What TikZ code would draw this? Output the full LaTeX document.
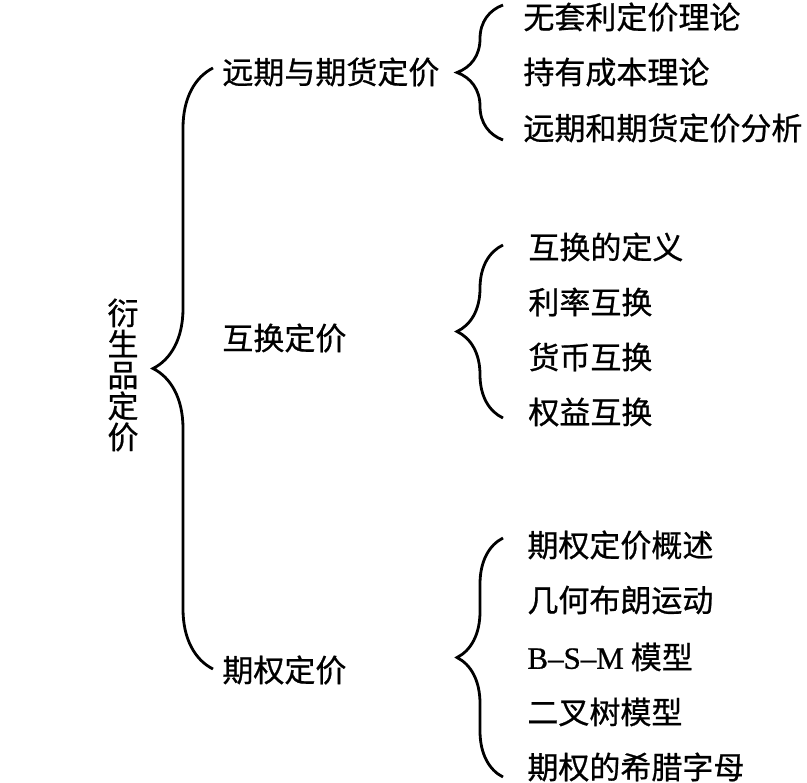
\documentclass[tikz,border=0pt]{standalone}
\usepackage{fontspec}
\setmainfont{Liberation Serif}
\newfontfamily\cjk[FakeBold=0.7]{Noto Sans CJK SC}
\newfontfamily\lat[FakeBold=0.7,Ligatures=TeX]{Liberation Serif}
\usetikzlibrary{decorations.pathreplacing}
\begin{document}
\begin{tikzpicture}[x=0.5pt,y=-0.5pt,
  lab/.style={anchor=west,inner sep=0pt,font=\cjk\fontsize{15.5pt}{15.5pt}\selectfont},
  curly/.style={decorate,line width=1.4pt,decoration={brace,amplitude=#1}}]
\useasboundingbox (0,0) rectangle (807,782);
\node[lab,anchor=center,align=center] (root) at (123,375) {衍\\生\\品\\定\\价};
\node[lab] (fwd) at (222,72) {远期与期货定价};
\node[lab] (swp) at (222,338) {互换定价};
\node[lab] (opt) at (222,670) {期权定价};
\node[lab] (f1) at (523,17) {无套利定价理论};
\node[lab] (f2) at (523,72) {持有成本理论};
\node[lab] (f3) at (523,128) {远期和期货定价分析};
\node[lab] (s1) at (528,247) {互换的定义};
\node[lab] (s2) at (528,302) {利率互换};
\node[lab] (s3) at (528,357) {货币互换};
\node[lab] (s4) at (528,412) {权益互换};
\node[lab] (o1) at (527,545) {期权定价概述};
\node[lab] (o2) at (527,600) {几何布朗运动};
\node[lab] (o3) at (527,657) {{\lat B--S--M} 模型};
\node[lab] (o4) at (527,712) {二叉树模型};
\node[lab] (o5) at (527,767) {期权的希腊字母};
\coordinate (R0) at (213,669);
\coordinate (R1) at (213,68);
\coordinate (F0) at (503,140);
\coordinate (F1) at (503,5);
\coordinate (S0) at (503,418);
\coordinate (S1) at (503,245);
\coordinate (O0) at (503,777);
\coordinate (O1) at (503,538);
\draw[curly=30pt] (R0) -- (R1);
\foreach \p in {F,S,O}
	\draw[curly=23pt] (\p0) -- (\p1);
\end{tikzpicture}
\end{document}
